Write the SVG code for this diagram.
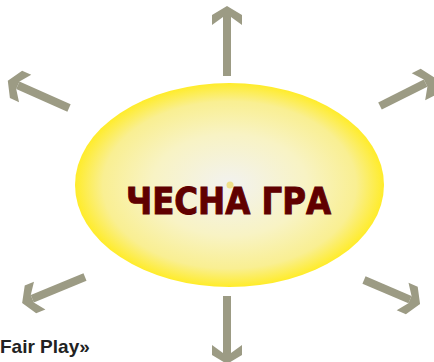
<svg xmlns="http://www.w3.org/2000/svg" xmlns:xlink="http://www.w3.org/1999/xlink" width="434" height="362" viewBox="0 0 434 362">
<style>
.shaft{stroke:#9c9b84;stroke-width:8;fill:none}
.head{fill:#9c9b84}
.title{font-family:"DejaVu Sans",sans-serif;font-weight:bold;font-size:37px;fill:#600000;stroke:#600000;stroke-width:1}
.caption{font-family:"Liberation Sans",Arial,sans-serif;font-weight:bold;font-size:19px;fill:#222}
</style>
<defs>
<radialGradient id="sun" cx="0.5" cy="0.5" r="0.5">
<stop offset="0" stop-color="#f2f2f0"/>
<stop offset="0.5" stop-color="#f8f3c4"/>
<stop offset="0.82" stop-color="#f9ef92"/>
<stop offset="1" stop-color="#ffec2a"/>
</radialGradient>
<path id="head" d="M0,0 L-9,-15 L-19,-15 L-11,-4 L-11,4 L-19,15 L-9,15 Z"/>
</defs>
<rect width="434" height="362" fill="#fff"/>
<g id="connectors">
<g transform="translate(227,76) rotate(-90)"><line class="shaft" x1="0" y1="0" x2="59" y2="0"/><use xlink:href="#head" class="head" x="70"/></g>
<g transform="translate(227,296) rotate(90)"><line class="shaft" x1="0" y1="0" x2="57" y2="0"/><use xlink:href="#head" class="head" x="68"/></g>
<g transform="translate(69,108) rotate(-156)"><line class="shaft" x1="0" y1="0" x2="56" y2="0"/><use xlink:href="#head" class="head" x="67"/></g>
<g transform="translate(380,106) rotate(-26.6)"><line class="shaft" x1="0" y1="0" x2="51" y2="0"/><use xlink:href="#head" class="head" x="62"/></g>
<g transform="translate(364,280) rotate(23.2)"><line class="shaft" x1="0" y1="0" x2="50" y2="0"/><use xlink:href="#head" class="head" x="61"/></g>
<g transform="translate(85,277) rotate(157.6)"><line class="shaft" x1="0" y1="0" x2="57" y2="0"/><use xlink:href="#head" class="head" x="68"/></g>
</g>
<g id="center">
<ellipse cx="229.5" cy="185" rx="154.5" ry="102" fill="url(#sun)"/>
<circle cx="230" cy="185" r="3.5" fill="#efe08a"/>
<text class="title" x="126" y="214" textLength="205" lengthAdjust="spacingAndGlyphs">ЧЕСНА ГРА</text>
</g>
<g id="caption">
<text class="caption" x="0" y="353">Fair Play»</text>
</g>
</svg>
